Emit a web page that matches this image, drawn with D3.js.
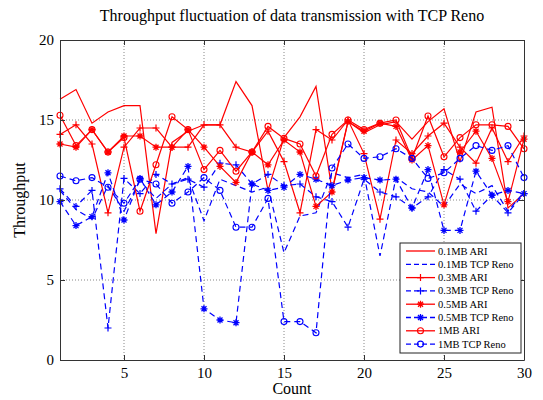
<!DOCTYPE html>
<html>
<head>
<meta charset="utf-8">
<script src="https://cdn.jsdelivr.net/npm/d3@7"></script>
<style>
  body { margin: 0; background: #fff; }
  text { font-family: "Liberation Serif", "Times New Roman", serif; }
</style>
</head>
<body>
<script>
// transmission counts (x axis)
const counts = d3.range(1, 31)

// throughput per count
const ari01 = [16.3, 16.9, 14.8, 15.5, 15.9, 15.9, 7.9, 13.6, 14.3, 14.7, 14.7, 17.4, 15.9, 10.6, 13.9, 15.2, 17.1, 10.6, 14.9, 14.2, 14.7, 14.9, 13.8, 14.9, 15.7, 12.4, 15.5, 15.8, 9.5, 10.4]
const reno01 = [10.6, 9.4, 8.8, 10.9, 9.3, 11.2, 10.1, 11.0, 11.4, 8.7, 11.3, 10.9, 10.5, 10.8, 6.7, 9.0, 9.2, 11.7, 11.4, 11.6, 6.5, 11.4, 10.7, 10.5, 9.6, 11.0, 10.4, 10.9, 9.3, 10.5]
const ari03 = [14.1, 14.7, 13.5, 9.2, 13.3, 14.5, 14.5, 13.3, 13.3, 14.7, 14.7, 13.3, 13.0, 14.3, 12.4, 9.2, 14.4, 13.75, 15.0, 12.9, 8.8, 13.75, 12.9, 14.0, 14.8, 13.3, 12.3, 14.5, 12.4, 14.0]
const reno03 = [10.7, 9.6, 10.6, 2.0, 11.35, 10.4, 11.6, 11.0, 11.3, 10.8, 12.3, 12.2, 11.0, 11.6, 10.9, 11.0, 10.2, 9.9, 8.3, 11.3, 10.5, 10.2, 9.5, 10.2, 11.9, 11.3, 9.3, 10.3, 9.2, 10.4]
const ari05 = [13.5, 13.3, 14.4, 13.0, 14.0, 14.0, 13.3, 13.3, 14.4, 13.3, 12.1, 11.1, 13.0, 12.2, 13.75, 13.0, 9.6, 10.5, 14.9, 14.3, 14.8, 14.6, 12.5, 13.4, 9.7, 13.0, 14.3, 12.6, 9.9, 13.8]
const reno05 = [9.9, 8.4, 8.96, 11.7, 8.75, 11.35, 9.7, 10.5, 12.1, 3.2, 2.5, 2.33, 11.0, 10.6, 10.8, 11.6, 11.3, 10.9, 11.25, 11.4, 11.25, 11.3, 9.5, 11.9, 8.1, 8.1, 11.8, 10.3, 10.6, 10.4]
const ari1 = [15.3, 13.4, 14.4, 13.0, 13.9, 9.3, 12.2, 15.2, 14.4, 11.9, 13.1, 11.8, 13.0, 14.6, 13.85, 13.5, 11.5, 14.1, 15.0, 14.4, 14.8, 15.0, 12.6, 15.25, 12.7, 13.9, 14.7, 14.7, 14.6, 13.2]
const reno1 = [11.5, 11.2, 11.4, 10.8, 9.8, 11.3, 11.0, 9.8, 10.5, 11.4, 10.6, 8.3, 8.3, 10.1, 2.4, 2.4, 1.7, 12.0, 13.5, 12.6, 12.7, 13.2, 12.6, 11.35, 11.7, 12.6, 13.4, 13.1, 13.4, 11.4]

const xTicks = [5, 10, 15, 20, 25, 30]
const yTicks = [0, 5, 10, 15, 20]

const series = [
  { name: '0.1MB ARI', values: ari01, color: '#ff0000', dash: null, marker: null },
  { name: '0.1MB TCP Reno', values: reno01, color: '#0000ff', dash: '6,4', marker: null },
  { name: '0.3MB ARI', values: ari03, color: '#ff0000', dash: null, marker: 'plus' },
  { name: '0.3MB TCP Reno', values: reno03, color: '#0000ff', dash: '6,4', marker: 'plus' },
  { name: '0.5MB ARI', values: ari05, color: '#ff0000', dash: null, marker: 'star' },
  { name: '0.5MB TCP Reno', values: reno05, color: '#0000ff', dash: '6,4', marker: 'star' },
  { name: '1MB ARI', values: ari1, color: '#ff0000', dash: null, marker: 'circle' },
  { name: '1MB TCP Reno', values: reno1, color: '#0000ff', dash: '6,4', marker: 'circle' }
]

let width = 543
let height = 400
let plotLeft = 60, plotRight = 524, plotTop = 40, plotBottom = 360

let x = d3.scaleLinear().domain([1, 30]).range([plotLeft, plotRight])
let y = d3.scaleLinear().domain([0, 20]).range([plotBottom, plotTop])

let svg = d3.select('body').append('svg')
  .attr('width', width)
  .attr('height', height)

// dotted grid
svg.append('g').selectAll('line')
  .data(xTicks.filter(d => d < 30))
  .enter().append('line')
  .attr('x1', d => x(d)).attr('x2', d => x(d))
  .attr('y1', plotTop).attr('y2', plotBottom)
  .attr('stroke', '#888').attr('stroke-dasharray', '1,2')
svg.append('g').selectAll('line')
  .data(yTicks.filter(d => d > 0 && d < 20))
  .enter().append('line')
  .attr('x1', plotLeft).attr('x2', plotRight)
  .attr('y1', d => y(d)).attr('y2', d => y(d))
  .attr('stroke', '#888').attr('stroke-dasharray', '1,2')

// draws one marker symbol at (px, py)
function drawMarker (g, type, px, py, color) {
  if (type === 'plus') {
    g.append('path').attr('d', `M${px - 3.5},${py}H${px + 3.5}M${px},${py - 3.5}V${py + 3.5}`)
      .attr('stroke', color).attr('stroke-width', 1.2).attr('fill', 'none')
  } else if (type === 'star') {
    g.append('path').attr('d', `M${px - 3.5},${py}H${px + 3.5}M${px},${py - 3.5}V${py + 3.5}` +
      `M${px - 2.5},${py - 2.5}L${px + 2.5},${py + 2.5}M${px - 2.5},${py + 2.5}L${px + 2.5},${py - 2.5}`)
      .attr('stroke', color).attr('stroke-width', 1.3).attr('fill', 'none')
  } else if (type === 'circle') {
    g.append('circle').attr('cx', px).attr('cy', py).attr('r', 3)
      .attr('stroke', color).attr('stroke-width', 1.1).attr('fill', 'none')
  }
}

let line = d3.line()
  .x((d, i) => x(counts[i]))
  .y(d => y(d))

let plot = svg.append('g')
series.forEach(function (s) {
  plot.append('path')
    .datum(s.values)
    .attr('d', line)
    .attr('fill', 'none')
    .attr('stroke', s.color)
    .attr('stroke-width', 1.2)
    .attr('stroke-dasharray', s.dash)
  if (s.marker) {
    s.values.forEach(function (v, i) {
      drawMarker(plot, s.marker, x(counts[i]), y(v), s.color)
    })
  }
})

// axes with inward ticks, MATLAB style
let xAxis = svg.append('g').attr('transform', `translate(0,${plotBottom})`)
  .call(d3.axisBottom(x).tickValues(xTicks).tickSizeInner(-5).tickSizeOuter(0).tickPadding(7))
let yAxis = svg.append('g').attr('transform', `translate(${plotLeft},0)`)
  .call(d3.axisLeft(y).tickValues(yTicks).tickSizeInner(-5).tickSizeOuter(0).tickPadding(6))
svg.append('g').attr('transform', `translate(0,${plotTop})`)
  .call(d3.axisTop(x).tickValues(xTicks).tickSizeInner(-5).tickSizeOuter(0).tickFormat(''))
svg.append('g').attr('transform', `translate(${plotRight},0)`)
  .call(d3.axisRight(y).tickValues(yTicks).tickSizeInner(-5).tickSizeOuter(0).tickFormat(''))

svg.selectAll('.domain').attr('stroke', '#333')
svg.selectAll('.tick line').attr('stroke', '#333')
xAxis.selectAll('text').attr('font-size', 15).attr('fill', '#000')
  .attr('font-family', '"Liberation Serif", serif')
yAxis.selectAll('text').attr('font-size', 15).attr('fill', '#000')
  .attr('font-family', '"Liberation Serif", serif')

// titles
svg.append('text').attr('x', 292).attr('y', 21).attr('text-anchor', 'middle')
  .attr('font-size', 16).text('Throughput fluctuation of data transmission with TCP Reno')
svg.append('text').attr('x', 292).attr('y', 394).attr('text-anchor', 'middle')
  .attr('font-size', 16).text('Count')
svg.append('text').attr('transform', 'translate(25,200) rotate(-90)').attr('text-anchor', 'middle')
  .attr('font-size', 16).text('Throughput')

// legend
let legend = svg.append('g').attr('transform', 'translate(400,243)')
legend.append('rect').attr('width', 121).attr('height', 110)
  .attr('fill', '#fff').attr('stroke', '#222').attr('stroke-width', 1)
series.forEach(function (s, i) {
  let ly = 8 + i * 13.3
  legend.append('line').attr('x1', 6).attr('x2', 35).attr('y1', ly).attr('y2', ly)
    .attr('stroke', s.color).attr('stroke-width', 1.3).attr('stroke-dasharray', s.dash ? '5,3' : null)
  if (s.marker) drawMarker(legend, s.marker, 20.5, ly, s.color)
  legend.append('text').attr('x', 38).attr('y', ly + 3.5).attr('font-size', 10.5).text(s.name)
})
</script>
</body>
</html>
